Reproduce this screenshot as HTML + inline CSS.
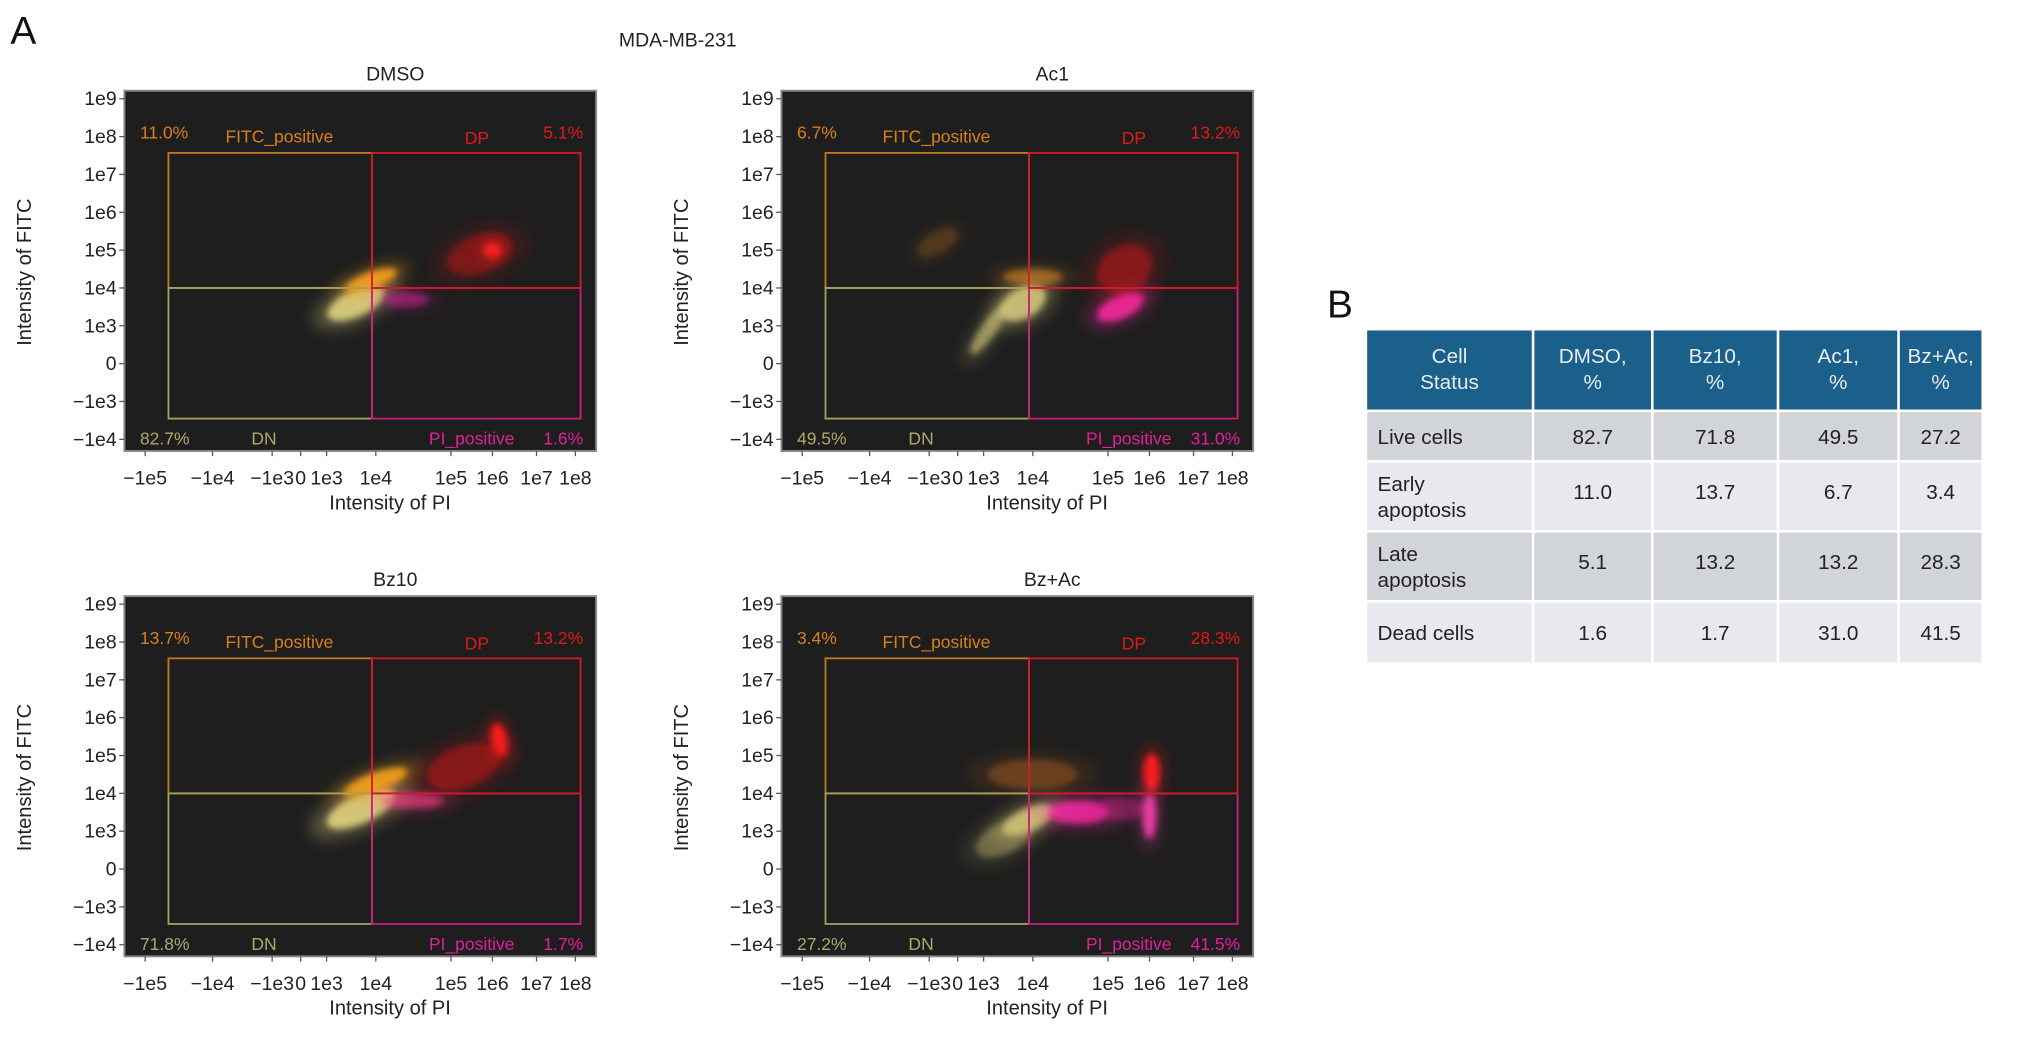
<!DOCTYPE html>
<html><head><meta charset="utf-8"><style>
html,body{margin:0;padding:0;background:#fff;}
svg{display:block;font-family:"Liberation Sans",Arial,sans-serif;}
</style></head><body>
<svg id="fig" width="2032" height="1051" viewBox="0 0 1568 811" xmlns="http://www.w3.org/2000/svg">
<defs>
<filter id="blur" x="-50%" y="-50%" width="200%" height="200%"><feGaussianBlur stdDeviation="2.5"/></filter>
<filter id="blur2" x="-50%" y="-50%" width="200%" height="200%"><feGaussianBlur stdDeviation="6"/></filter>
</defs>
<text x="8" y="34" font-size="30" fill="#111">A</text>
<text x="523" y="36" font-size="15" fill="#222" text-anchor="middle">MDA-MB-231</text>
<text x="1024" y="245" font-size="30" fill="#111">B</text>
<g id="panels"></g>
<g id="table"></g>
</svg>
<script>
// ---- data ----
const panelNames = ["DMSO", "Ac1", "Bz10", "Bz+Ac"];
const xTickLabels = ["\u22121e5","\u22121e4","\u22121e3","0","1e3","1e4","1e5","1e6","1e7","1e8"];
const yTickLabels = ["\u22121e4","\u22121e3","0","1e3","1e4","1e5","1e6","1e7","1e8","1e9"];
const pctFitc = ["11.0%","6.7%","13.7%","3.4%"];
const pctDP = ["5.1%","13.2%","13.2%","28.3%"];
const pctDN = ["82.7%","49.5%","71.8%","27.2%"];
const pctPI = ["1.6%","31.0%","1.7%","41.5%"];
// clusters: [xIndex, yIndex (1e4 = 4), xSpread, ySpread, angleDeg, color, opacity]
const clustersDMSO = [
 [4.6,3.6,0.55,0.35,-25,"#d8cc7e",0.95],[4.9,4.2,0.4,0.22,-20,"#f5a01a",0.9],
 [6.7,4.9,0.8,0.5,-20,"#e01515",0.4],[7.0,5.0,0.2,0.2,0,"#ff2020",0.9],[5.4,3.7,0.3,0.2,0,"#c0208a",0.6]];
const clustersAc1 = [
 [4.8,3.6,0.4,0.4,-30,"#d8cc7e",0.85],[4.1,2.9,0.6,0.2,-55,"#d8cc7e",0.6],
 [6.3,3.5,0.6,0.3,-25,"#ff2aa8",0.85],[6.4,4.5,0.7,0.6,-30,"#e01515",0.45],
 [5.0,4.3,0.4,0.2,0,"#f09020",0.5],[2.3,5.2,0.8,0.3,-30,"#c07020",0.25]];
const clustersBz10 = [
 [4.7,3.6,0.6,0.38,-25,"#d8cc7e",0.95],[5.0,4.3,0.45,0.25,-20,"#f5a01a",0.9],
 [7.15,5.4,0.18,0.45,-10,"#ff1a1a",0.95],[6.3,4.7,0.9,0.55,-20,"#e01515",0.45],[5.5,3.8,0.4,0.2,0,"#ff3a8a",0.6]];
const clustersBzAc = [
 [4.9,3.3,0.4,0.3,-25,"#d8cc7e",0.85],[4.4,2.8,0.6,0.4,-25,"#c8bc6e",0.4],
 [5.6,3.5,0.4,0.3,0,"#ff2aa8",0.8],[6.3,3.6,0.6,0.3,0,"#d0208a",0.4],
 [7.05,4.55,0.18,0.5,0,"#ff1a1a",0.95],[7.0,3.4,0.15,0.6,0,"#ff40b0",0.85],[5.0,4.5,0.6,0.4,0,"#d07020",0.35]];
const panelClusters = [clustersDMSO, clustersAc1, clustersBz10, clustersBzAc];
const tableHeader = ["Cell\nStatus","DMSO,\n%","Bz10,\n%","Ac1,\n%","Bz+Ac,\n%"];
const rowLabels = ["Live cells","Early\napoptosis","Late\napoptosis","Dead cells"];
const colDMSO = ["82.7","11.0","5.1","1.6"];
const colBz10 = ["71.8","13.7","13.2","1.7"];
const colAc1 = ["49.5","6.7","13.2","31.0"];
const colBzAc = ["27.2","3.4","28.3","41.5"];

// ---- drawing ----
const NS="http://www.w3.org/2000/svg";
function mk(tag,attrs,parent,txt){const e=document.createElementNS(NS,tag);for(const k in attrs)e.setAttribute(k,attrs[k]);if(txt!==undefined)e.textContent=txt;parent.appendChild(e);return e;}
const xTickFrac=[16,68,114,136,156,194,252,284,318,348];
const offsets=[[0,0],[507,0],[0,390],[507,390]];
const panelsG=document.getElementById('panels');
panelNames.forEach((nm,p)=>{
 const [ox,oy]=offsets[p];
 const L=96+ox,T=70+oy,W=364,H=278;
 const xs=u=>{const i=Math.max(0,Math.min(8,Math.floor(u)));return L+xTickFrac[i]+(u-i)*(xTickFrac[i+1]-xTickFrac[i]);};
 const ys=v=>T+H-9-v*29.2;
 const g=mk('g',{},panelsG);
 
 
 const t=mk('text',{x:L+209,y:T-8,'font-size':15,'text-anchor':'middle',fill:'#222'},g,nm);
 
 const bg=mk('rect',{x:L,y:T,width:W,height:H,fill:'#1e1e1e',stroke:'#888','stroke-width':1.5},g);
 
 panelClusters[p].forEach(c=>{
  const cx=xs(c[0]),cy=ys(c[1]);
  const rx=Math.abs(xs(c[0]+c[2])-cx),ry=c[3]*29.2;
  const h=mk('ellipse',{cx:cx,cy:cy,rx:rx*1.5,ry:ry*1.5,fill:c[5],opacity:c[6]*0.35,filter:'url(#blur2)',transform:`rotate(${c[4]} ${cx} ${cy})`},g);
  
  const e=mk('ellipse',{cx:cx,cy:cy,rx:rx,ry:ry,fill:c[5],opacity:c[6],filter:'url(#blur)',transform:`rotate(${c[4]} ${cx} ${cy})`},g);
  
 });
 const gx=xs(5)-3,gy=ys(4),gl=L+34,gr=L+352,gt=T+48,gb=T+253;
 const gate=(x,y,w,h,col,name)=>{const r=mk('rect',{x:x,y:y,width:w,height:h,fill:'none',stroke:col,'stroke-width':1.4},g);};
 gate(gl,gt,gx-gl,gy-gt,'#c07a20','gate-fitc-positive');
 gate(gl,gy,gx-gl,gb-gy,'#a8a060','gate-dn');
 gate(gx,gy,gr-gx,gb-gy,'#c8207a','gate-pi-positive');
 gate(gx,gt,gr-gx,gy-gt,'#d01a2a','gate-dp');
 const lab=(x,y,txt,col,anchor,name)=>{const e=mk('text',{x:x,y:y,'font-size':13.5,fill:col,'text-anchor':anchor||'start'},g,txt);};
 lab(L+12,T+37,pctFitc[p],'#d8801a','start','pct-fitc-positive');
 lab(L+78,T+40,'FITC_positive','#d8801a','start','label-fitc-positive');
 lab(L+272,T+41,'DP','#e01a1a','middle','label-dp');
 lab(L+354,T+37,pctDP[p],'#e01a1a','end','pct-dp');
 lab(L+12,T+273,pctDN[p],'#b0a868','start','pct-dn');
 lab(L+98,T+273,'DN','#b0a868','start','label-dn');
 lab(L+235,T+273,'PI_positive','#e0209a','start','label-pi-positive');
 lab(L+354,T+273,pctPI[p],'#e0209a','end','pct-pi-positive');
 yTickLabels.forEach((s,i)=>{const y=ys(i);
  mk('line',{x1:L-4,x2:L,y1:y,y2:y,stroke:'#555'},g);
  const e=mk('text',{x:L-6,y:y+5,'font-size':15,'text-anchor':'end',fill:'#222'},g,s);
  });
 xTickLabels.forEach((s,i)=>{const x=xs(i);
  mk('line',{x1:x,x2:x,y1:T+H,y2:T+H+4,stroke:'#555'},g);
  const e=mk('text',{x:x,y:T+H+26,'font-size':15,'text-anchor':'middle',fill:'#222'},g,s);
  });
 const xt=mk('text',{x:L+205,y:T+H+45,'font-size':15.5,'text-anchor':'middle',fill:'#222'},g,'Intensity of PI');
 
 const yx=L-72,yy=T+140;
 const yt=mk('text',{x:yx,y:yy,'font-size':15.5,'text-anchor':'middle',fill:'#222',transform:`rotate(-90 ${yx} ${yy})`},g,'Intensity of FITC');
 
});

const tg=document.getElementById('table');
const colX=[1055,1184,1276,1373,1466,1531];
const rowY=[255,318,357,411,465,513];
const cols=[rowLabels,colDMSO,colBz10,colAc1,colBzAc];
const gap=2;
for(let c=0;c<5;c++){
 const x=colX[c],w=colX[c+1]-colX[c]-gap;
 const hr=mk('rect',{x:x,y:rowY[0],width:w,height:rowY[1]-rowY[0]-gap,fill:'#1b5f8b'},tg);
 
 const lines=tableHeader[c].split('\n');
 lines.forEach((ln,k)=>{const e=mk('text',{x:x+w/2,y:rowY[0]+25+k*20,'font-size':16,'text-anchor':'middle',fill:'#e8eef4'},tg,ln);});
 for(let r=0;r<4;r++){
  const y=rowY[r+1],h=rowY[r+2]-y-gap;
  const cell=mk('rect',{x:x,y:y,width:w,height:h,fill:r%2===0?'#d1d4d9':'#e7e9ee'},tg);
  
  const ls=cols[c][r].split('\n');
  const x0=c===0?x+8:x+w/2;
  ls.forEach((ln,k)=>{const yy=y+h/2+6+(k-(ls.length-1)/2)*20-(c>0&&r>0&&r<3?4:0);
   const e=mk('text',{x:x0,y:yy,'font-size':16,'text-anchor':c===0?'start':'middle',fill:'#222'},tg,ln);
   });
 }
}
</script>
</body></html>
